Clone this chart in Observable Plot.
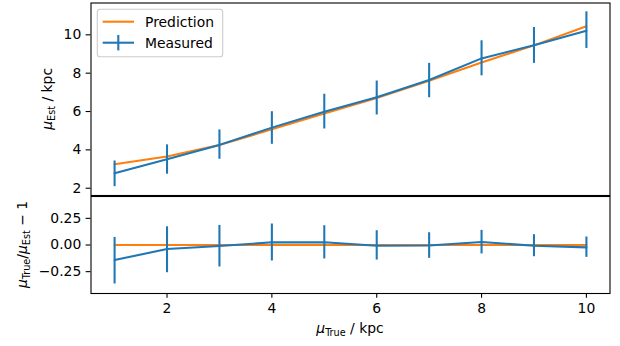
<!DOCTYPE html>
<html>
<head>
<meta charset="utf-8">
<script src="https://cdn.jsdelivr.net/npm/d3@7"></script>
<script src="https://cdn.jsdelivr.net/npm/@observablehq/plot@0.6"></script>
<style>
  body { margin: 0; background: #fff; }
  #chart { position: relative; width: 620px; height: 346px; overflow: hidden; font-family: "DejaVu Sans", sans-serif; }
  #chart svg { position: absolute; left: 0; overflow: visible; }
</style>
</head>
<body>
<div id="chart"></div>
<script>
// ---- data ----
const xTrue      = [1, 2, 3, 4, 5, 6, 7, 8, 9, 10];
const prediction = [3.25, 3.65, 4.25, 5.07, 5.90, 6.70, 7.60, 8.56, 9.45, 10.45];
const measured   = [2.78, 3.51, 4.26, 5.16, 5.99, 6.74, 7.64, 8.77, 9.46, 10.21];
const measuredLo = [2.08, 2.73, 3.51, 4.29, 5.09, 5.82, 6.72, 7.86, 8.51, 9.29];
const measuredHi = [3.42, 4.26, 5.04, 5.99, 6.90, 7.59, 8.51, 9.69, 10.38, 11.20];
const ratioPred  = [0, 0, 0, 0, 0, 0, 0, 0, 0, 0];
const ratio      = [-0.141, -0.038, -0.010, 0.025, 0.025, -0.007, -0.005, 0.028, -0.007, -0.022];
const ratioLo    = [-0.366, -0.260, -0.206, -0.150, -0.131, -0.141, -0.125, -0.084, -0.110, -0.116];
const ratioHi    = [0.071, 0.171, 0.184, 0.197, 0.181, 0.134, 0.115, 0.137, 0.097, 0.075];
const xTicks     = [2, 4, 6, 8, 10];
const yTicksTop  = [2, 4, 6, 8, 10];
const yTicksBot  = [-0.25, 0, 0.25];
const seriesNames = ["Prediction", "Measured"];

const C0 = "#1f77b4", C1 = "#ff7f0e";
const LW = 2.08, SW = 1.1, TICK = 4.86, PAD = 4.86, FS = 13.9;

const topRows = xTrue.map((x, i) => ({x, pred: prediction[i], meas: measured[i], lo: measuredLo[i], hi: measuredHi[i]}));
const botRows = xTrue.map((x, i) => ({x, pred: ratioPred[i], meas: ratio[i], lo: ratioLo[i], hi: ratioHi[i]}));

const xScale = {domain: [0.55, 10.45]};
const common = {
  width: 620,
  marginLeft: 90.5,
  marginRight: 10.5,
  style: {fontSize: FS + "px", fontFamily: "DejaVu Sans, sans-serif", color: "black", background: "transparent", overflow: "visible"}
};

const topPlot = Plot.plot({
  ...common,
  height: 196,
  marginTop: 2.5,
  marginBottom: 1,
  x: {...xScale, axis: null},
  y: {domain: [1.62, 11.66]},
  marks: [
    Plot.axisY({ticks: yTicksTop, tickSize: TICK, tickPadding: PAD, strokeWidth: SW, label: null, tickFormat: d3.format("d")}),
    Plot.line(topRows, {x: "x", y: "pred", stroke: C1, strokeWidth: LW}),
    Plot.line(topRows, {x: "x", y: "meas", stroke: C0, strokeWidth: LW}),
    Plot.ruleX(topRows, {x: "x", y1: "lo", y2: "hi", stroke: C0, strokeWidth: LW}),
    Plot.frame({stroke: "black", strokeWidth: SW})
  ]
});

const botPlot = Plot.plot({
  ...common,
  height: 151,
  marginTop: 1,
  marginBottom: 53,
  x: {...xScale},
  y: {domain: [-0.455, 0.455]},
  marks: [
    Plot.axisY({ticks: yTicksBot, tickSize: TICK, tickPadding: PAD, strokeWidth: SW, label: null, tickFormat: d3.format(".2f")}),
    Plot.axisX({ticks: xTicks, tickSize: TICK, tickPadding: PAD, strokeWidth: SW, label: null, tickFormat: d3.format("d")}),
    Plot.line(botRows, {x: "x", y: "pred", stroke: C1, strokeWidth: LW}),
    Plot.line(botRows, {x: "x", y: "meas", stroke: C0, strokeWidth: LW}),
    Plot.ruleX(botRows, {x: "x", y1: "lo", y2: "hi", stroke: C0, strokeWidth: LW}),
    Plot.frame({stroke: "black", strokeWidth: SW})
  ]
});

const chart = document.getElementById("chart");
topPlot.style.top = "0px";
botPlot.style.top = "195px";
chart.appendChild(topPlot);
chart.appendChild(botPlot);

// ---- legend (top panel, upper left) ----
const tsvg = d3.select(topPlot);
const lg = tsvg.append("g").attr("text-anchor", "start");
lg.append("rect").attr("x", 97.3).attr("y", 9.3).attr("width", 125.4).attr("height", 47.4)
  .attr("rx", 2.8).attr("fill", "white").attr("fill-opacity", 0.8).attr("stroke", "#cccccc").attr("stroke-width", SW);
lg.append("line").attr("x1", 102.7).attr("x2", 134).attr("y1", 21.7).attr("y2", 21.7)
  .attr("stroke", C1).attr("stroke-width", LW);
lg.append("line").attr("x1", 102.7).attr("x2", 134).attr("y1", 42.7).attr("y2", 42.7)
  .attr("stroke", C0).attr("stroke-width", LW);
lg.append("line").attr("x1", 118.3).attr("x2", 118.3).attr("y1", 35).attr("y2", 50.4)
  .attr("stroke", C0).attr("stroke-width", LW);
lg.append("text").attr("x", 145).attr("y", 26.8).attr("text-anchor", "start").attr("font-size", FS).attr("fill", "black").text(seriesNames[0]);
lg.append("text").attr("x", 145).attr("y", 47.8).attr("text-anchor", "start").attr("font-size", FS).attr("fill", "black").text(seriesNames[1]);

// ---- axis labels with mathtext-like subscripts ----
const SUB = 9.7, SH = 3;
function mathLabel(sel, parts) {
  let shifted = false;
  parts.forEach(([t, kind]) => {
    const ts = sel.append("tspan").text(t);
    if (kind === "it") ts.attr("font-style", "italic");
    if (kind === "sub") {
      ts.attr("font-size", SUB);
      if (!shifted) { ts.attr("dy", SH); shifted = true; }
    } else if (shifted) { ts.attr("dy", -SH); shifted = false; }
  });
}

const t1 = tsvg.append("text").attr("transform", "translate(51.5,98.9) rotate(-90)")
  .attr("text-anchor", "middle").attr("font-size", FS).attr("fill", "black");
mathLabel(t1, [["μ", "it"], ["Est", "sub"], [" / kpc", "rm"]]);

const bsvg = d3.select(botPlot);
const t2 = bsvg.append("text").attr("transform", "translate(26.8,49.5) rotate(-90)")
  .attr("text-anchor", "middle").attr("font-size", FS).attr("fill", "black");
mathLabel(t2, [["μ", "it"], ["True", "sub"], ["/", "rm"], ["μ", "it"], ["Est", "sub"], [" − 1", "rm"]]);

const t3 = bsvg.append("text").attr("transform", "translate(350,137.8)")
  .attr("text-anchor", "middle").attr("font-size", FS).attr("fill", "black");
mathLabel(t3, [["μ", "it"], ["True", "sub"], [" / kpc", "rm"]]);
</script>
</body>
</html>
